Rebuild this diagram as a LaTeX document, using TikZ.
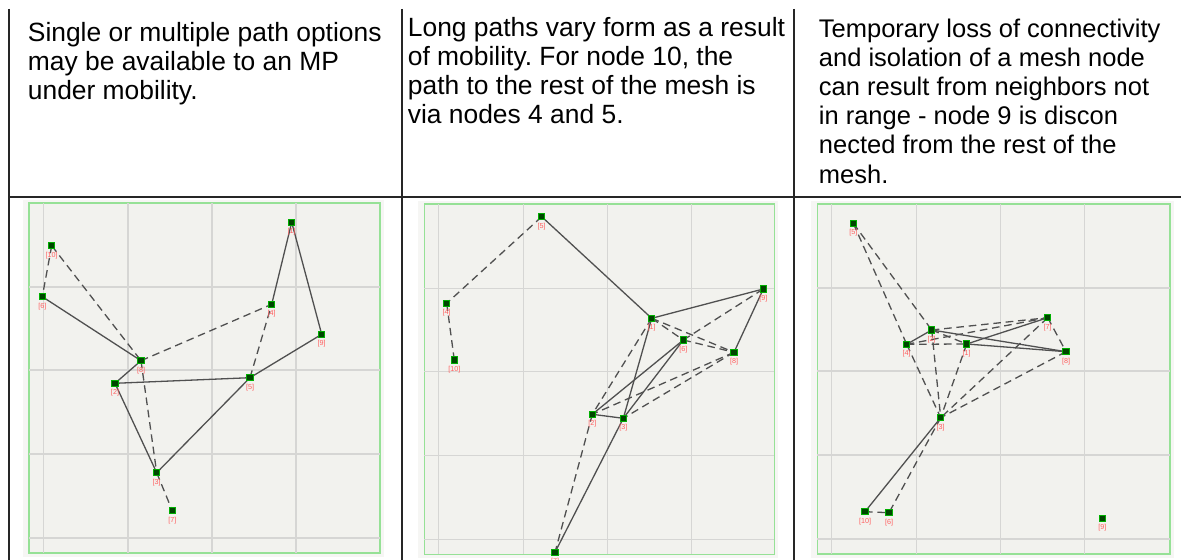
\documentclass[tikz,border=0pt]{standalone}
\usepackage{fontspec}
\setmainfont{Liberation Sans}
\frenchspacing
\pgfdeclarelayer{bg}
\pgfdeclarelayer{edges}
\pgfsetlayers{bg,edges,main}
\definecolor{fieldfill}{RGB}{242,242,238}
\definecolor{outerfill}{RGB}{246,246,244}
\definecolor{fieldline}{RGB}{150,225,150}
\definecolor{gridcol}{RGB}{214,214,212}
\definecolor{mpfill}{RGB}{0,70,0}
\definecolor{mpdraw}{RGB}{0,175,0}
\definecolor{lblcol}{RGB}{255,95,95}
\definecolor{linkcol}{RGB}{80,80,80}
\begin{document}
\begin{tikzpicture}[x=0.5pt,y=-0.5pt,
  tbl/.style={line width=1pt, draw=black!85},
  txt/.style={anchor=base west, inner sep=0pt, font=\fontsize{13.2}{14.5}\selectfont},
  txtc/.style={anchor=base west, inner sep=0pt, font=\fontsize{12.75}{14.5}\selectfont},
  outer/.style={fill=outerfill, draw=none},
  field/.style={draw=fieldline, line width=0.8pt, fill=fieldfill},
  gridl/.style={draw=gridcol, line width=0.6pt},
  mp/.style={rectangle, minimum size=3.2pt, inner sep=0pt, fill=mpfill, draw=mpdraw, line width=0.5pt},
  lbl/.style={text=lblcol, font=\fontsize{3.6}{4}\selectfont, inner sep=0pt, label distance=1pt},
  link/.style={draw=linkcol, line width=0.65pt},
  dlink/.style={link, dash pattern=on 3.8pt off 2.4pt},
]
\useasboundingbox (0,0) rectangle (1181,560);

% ---- fields
\begin{pgfonlayer}{bg}
\fill[white] (0,0) rectangle (1181,560);
\foreach \ox/\oy/\w in {29/203/351, 424.3/204.3/350, 817.3/204/352.7}{
  \begin{scope}[shift={(\ox,\oy)}]
    \fill[outer] (-6,-3) rectangle (\w+4,354);
    \draw[field] (0,0) rectangle (\w,350);
    \foreach \gx in {14.5,99,183,267} \draw[gridl] (\gx,0) -- (\gx,350);
    \foreach \gy in {84,167,251,335} \draw[gridl] (0,\gy) -- (\w,\gy);
  \end{scope}
}
\end{pgfonlayer}

% ---- table rules
\draw[tbl] (8.5,9) -- (8.5,560);
\draw[tbl] (401.5,9) -- (401.5,560);
\draw[tbl] (794,9) -- (794,560);
\draw[tbl] (8.5,197) -- (1181,197);

% ---- texts
\node[txt] (t1a) at (27.5,41.7) {Single or multiple path options};
\node[txt] (t1b) at (27.5,70.7) {may be available to an MP};
\node[txt] (t1c) at (27.5,99.7) {under mobility.};

\node[txt] (t2a) at (407.5,36.7) {Long paths vary form as a result};
\node[txt] (t2b) at (407.5,65.7) {of mobility. For node 10, the};
\node[txt] (t2c) at (407.5,94.5) {path to the rest of the mesh is};
\node[txt] (t2d) at (407.5,123.3) {via nodes 4 and 5.};

\node[txtc] (t3a) at (818.5,37.3) {Temporary loss of connectivity};
\node[txtc] (t3b) at (818.5,66.5) {and isolation of a mesh node};
\node[txtc] (t3c) at (818.5,95.7) {can result from neighbors not};
\node[txtc] (t3d) at (818.5,125) {in range - node 9 is discon};
\node[txtc] (t3e) at (818.5,154) {nected from the rest of the};
\node[txtc] (t3f) at (818.5,183.2) {mesh.};

% ---- panel 1 nodes
\node[mp, label={[lbl]below:{[10]}}] (a1) at (51.7,245.7) {};
\node[mp, label={[lbl]below:{[6]}}] (a2) at (42.3,296.7) {};
\node[mp, label={[lbl]below:{[8]}}] (a3) at (141,360.7) {};
\node[mp, label={[lbl]below:{[2]}}] (a4) at (115,383.3) {};
\node[mp, label={[lbl]below:{[5]}}] (a5) at (250,377.7) {};
\node[mp, label={[lbl]below:{[3]}}] (a6) at (156.7,472.7) {};
\node[mp, label={[lbl]below:{[7]}}] (a7) at (172.3,510.7) {};
\node[mp, label={[lbl]below:{[1]}}] (a8) at (291.7,222.3) {};
\node[mp, label={[lbl]below:{[4]}}] (a9) at (271.7,304.3) {};
\node[mp, label={[lbl]below:{[9]}}] (a10) at (321.7,334.3) {};

% ---- panel 2 nodes
\node[mp, label={[lbl]below:{[5]}}] (b1) at (541.7,216.7) {};
\node[mp, label={[lbl]below:{[4]}}] (b2) at (446.7,303.3) {};
\node[mp, label={[lbl]below:{[10]}}] (b3) at (454.3,360) {};
\node[mp, label={[lbl]below:{[1]}}] (b4) at (651.7,318.3) {};
\node[mp, label={[lbl]below:{[9]}}] (b5) at (763.3,289) {};
\node[mp, label={[lbl]below:{[6]}}] (b6) at (683.3,340) {};
\node[mp, label={[lbl]below:{[8]}}] (b7) at (734,352.3) {};
\node[mp, label={[lbl]below:{[2]}}] (b8) at (592.3,414.3) {};
\node[mp, label={[lbl]below:{[3]}}] (b9) at (623.3,418.3) {};
\node[mp, label={[lbl]below:{[7]}}] (b10) at (555,552.3) {};

% ---- panel 3 nodes
\node[mp, label={[lbl]below:{[5]}}] (c1) at (853.3,223.3) {};
\node[mp, label={[lbl]below:{[2]}}] (c2) at (931.7,330) {};
\node[mp, label={[lbl]below:{[4]}}] (c3) at (906.7,344.3) {};
\node[mp, label={[lbl]below:{[1]}}] (c4) at (966.7,344) {};
\node[mp, label={[lbl]below:{[7]}}] (c5) at (1047.7,317.7) {};
\node[mp, label={[lbl]below:{[8]}}] (c6) at (1066,351.7) {};
\node[mp, label={[lbl]below:{[3]}}] (c7) at (940.7,417.7) {};
\node[mp, label={[lbl]below:{[10]}}] (c8) at (865,511.7) {};
\node[mp, label={[lbl]below:{[6]}}] (c9) at (889,512.7) {};
\node[mp, label={[lbl]below:{[9]}}] (c10) at (1102.3,518.3) {};

% ---- links
\begin{pgfonlayer}{edges}
% panel 1
\draw[dlink] (a1.center) -- (a2.center);
\draw[dlink] (a1.center) -- (a3.center);
\draw[link] (a2.center) -- (a3.center);
\draw[link] (a3.center) -- (a4.center);
\draw[dlink] (a3.center) -- (a9.center);
\draw[dlink] (a3.center) -- (a6.center);
\draw[link] (a4.center) -- (a5.center);
\draw[link] (a4.center) -- (a6.center);
\draw[link] (a6.center) -- (a5.center);
\draw[dlink] (a6.center) -- (a7.center);
\draw[dlink] (a5.center) -- (a9.center);
\draw[link] (a5.center) -- (a10.center);
\draw[link] (a8.center) -- (a9.center);
\draw[link] (a8.center) -- (a10.center);
% panel 2
\draw[dlink] (b1.center) -- (b2.center);
\draw[dlink] (b2.center) -- (b3.center);
\draw[link] (b1.center) -- (b4.center);
\draw[link] (b4.center) -- (b5.center);
\draw[dlink] (b4.center) -- (b6.center);
\draw[dlink] (b4.center) -- (b7.center);
\draw[dlink] (b6.center) -- (b5.center);
\draw[dlink] (b6.center) -- (b7.center);
\draw[link] (b5.center) -- (b7.center);
\draw[dlink] (b4.center) -- (b8.center);
\draw[link] (b4.center) -- (b9.center);
\draw[link] (b6.center) -- (b8.center);
\draw[link] (b6.center) -- (b9.center);
\draw[dlink] (b7.center) -- (b8.center);
\draw[dlink] (b7.center) -- (b9.center);
\draw[link] (b8.center) -- (b9.center);
\draw[dlink] (b8.center) -- (b10.center);
\draw[link] (b9.center) -- (b10.center);
% panel 3
\draw[dlink] (c1.center) -- (c2.center);
\draw[dlink] (c1.center) -- (c3.center);
\draw[link] (c2.center) -- (c3.center);
\draw[dlink] (c2.center) -- (c4.center);
\draw[dlink] (c2.center) -- (c5.center);
\draw[link] (c2.center) -- (c6.center);
\draw[dlink] (c3.center) -- (c4.center);
\draw[dlink] (c3.center) -- (c5.center);
\draw[link] (c4.center) -- (c5.center);
\draw[link] (c4.center) -- (c6.center);
\draw[dlink] (c5.center) -- (c6.center);
\draw[dlink] (c2.center) -- (c7.center);
\draw[dlink] (c3.center) -- (c7.center);
\draw[dlink] (c4.center) -- (c7.center);
\draw[dlink] (c5.center) -- (c7.center);
\draw[dlink] (c6.center) -- (c7.center);
\draw[link] (c7.center) -- (c8.center);
\draw[dlink] (c7.center) -- (c9.center);
\draw[dlink] (c8.center) -- (c9.center);
\end{pgfonlayer}
\end{tikzpicture}
\end{document}
